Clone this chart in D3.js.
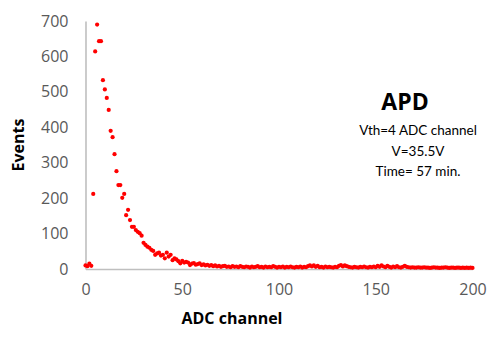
<!DOCTYPE html>
<html>
<head>
<meta charset="utf-8">
<script src="https://cdn.jsdelivr.net/npm/d3@7"></script>
<style>
  html, body { margin: 0; padding: 0; background: #fff; }
  svg { display: block; }
</style>
</head>
<body>
<svg id="chart" width="504" height="350"></svg>
<script>
// Events per ADC channel (index = channel 0..200)
const countsPeak = [10, 8, 15, 9, 212, 614, 690, 643, 643, 533,
  507, 483, 449, 390, 372, 324, 276, 237, 237, 201,
  212, 152, 167, 138, 119, 119, 110, 105, 101, 94,
  74, 68, 63, 60, 54, 51, 40, 44, 46, 38,
  40, 30, 46, 35, 40, 25, 30, 27, 22, 16];
const countsMid = [23, 18, 20, 18, 11, 15, 17, 12, 14, 16,
  11, 13, 10, 12, 9, 11, 8, 10, 7, 9,
  6, 8, 9, 6, 7, 5, 8, 6, 7, 5,
  8, 6, 5, 7, 6, 4, 7, 5, 6, 8,
  5, 6, 4, 7, 5, 6, 5, 8, 6, 4];
const countsTail1 = [6, 5, 7, 4, 6, 5, 7, 5, 4, 6,
  5, 7, 4, 6, 5, 8, 10, 7, 10, 6,
  9, 5, 6, 4, 7, 5, 6, 5, 4, 6,
  5, 9, 11, 7, 10, 8, 6, 5, 4, 6,
  5, 4, 6, 5, 7, 5, 4, 6, 5, 7];
const countsTail2 = [5, 9, 6, 10, 7, 5, 9, 6, 4, 7,
  5, 8, 5, 4, 6, 9, 6, 5, 4, 5,
  4, 4, 5, 4, 4, 5, 4, 4, 3, 4,
  5, 4, 4, 3, 4, 4, 5, 4, 3, 4,
  4, 3, 4, 4, 3, 4, 3, 4, 3, 4, 3];
const counts = countsPeak.concat(countsMid, countsTail1, countsTail2);

const xTicks = [0, 50, 100, 150, 200];
const yTicks = [0, 100, 200, 300, 400, 500, 600, 700];
const xTitle = "ADC channel";
const yTitle = "Events";
const noteTitle = "APD";
const noteLines = ["Vth=4 ADC channel", "V=35.5V", "Time= 57 min."];

const svg = d3.select("#chart");
const x = d3.scaleLinear().domain([0, 200]).range([85.5, 472.5]);
const y = d3.scaleLinear().domain([0, 700]).range([269, 21]);

const tickFont = "'Open Sans', 'Liberation Sans', sans-serif";
const noteFont = "Lato, 'Open Sans', sans-serif";
const axisColor = "#bfbfbf";
const tickColor = "#595959";

// Y axis
const yAxis = svg.append("g")
  .attr("transform", `translate(${x(0)},0)`)
  .call(d3.axisLeft(y).tickValues(yTicks).tickSize(0).tickPadding(17));
yAxis.select(".domain").attr("stroke", axisColor).attr("stroke-width", 1.6);
yAxis.selectAll("text").attr("fill", tickColor).style("font-family", tickFont).style("font-size", "16px");

// X axis
const xAxis = svg.append("g")
  .attr("transform", `translate(0,${y(0)})`)
  .call(d3.axisBottom(x).tickValues(xTicks).tickSize(0).tickPadding(15));
xAxis.select(".domain").attr("stroke", axisColor).attr("stroke-width", 1.6);
xAxis.selectAll("text").attr("fill", tickColor).style("font-family", tickFont).style("font-size", "16px");

// Points
svg.append("g").selectAll("circle")
  .data(counts)
  .join("circle")
  .attr("cx", (d, i) => x(i))
  .attr("cy", d => y(d))
  .attr("r", 2.1)
  .attr("fill", "#ff0000");

// Axis titles
svg.append("text")
  .attr("x", 232).attr("y", 324)
  .attr("text-anchor", "middle")
  .style("font-family", tickFont).style("font-size", "16px").style("font-weight", "bold")
  .attr("fill", "#000")
  .text(xTitle);

svg.append("text")
  .attr("transform", "translate(24,145) rotate(-90)")
  .attr("text-anchor", "middle")
  .style("font-family", tickFont).style("font-size", "16px").style("font-weight", "bold")
  .attr("fill", "#000")
  .text(yTitle);

// Annotation
svg.append("text")
  .attr("x", 405).attr("y", 110)
  .attr("text-anchor", "middle")
  .style("font-family", tickFont).style("font-size", "23px").style("font-weight", "bold")
  .attr("fill", "#000")
  .text(noteTitle);

svg.append("g").selectAll("text")
  .data(noteLines)
  .join("text")
  .attr("x", 418)
  .attr("y", (d, i) => 135 + i * 20.5)
  .attr("text-anchor", "middle")
  .style("font-family", noteFont).style("font-size", "13.5px")
  .attr("fill", "#000")
  .text(d => d);
</script>
</body>
</html>
